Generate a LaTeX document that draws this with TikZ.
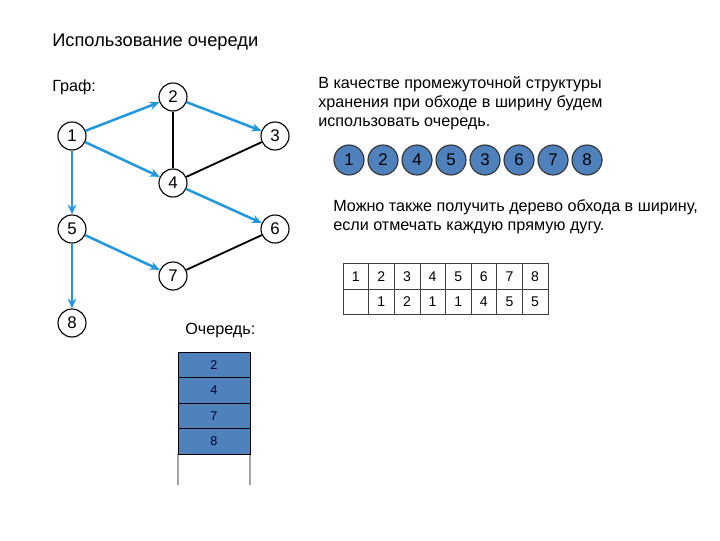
\documentclass[tikz,border=0pt]{standalone}
\usepackage{fontspec}
\setmainfont{Liberation Sans}
\usetikzlibrary{arrows.meta}
\definecolor{arcblue}{RGB}{35,152,222}
\definecolor{qblue}{RGB}{79,129,189}
\tikzset{
  vert/.style={circle, draw, thick, fill=white, minimum size=0.7cm, inner sep=0pt, font=\fontsize{12}{14}\selectfont},
  treearc/.style={arcblue, line width=1.8pt, -{Stealth[length=7pt,width=6pt]}},
  plainarc/.style={black, line width=1.3pt},
  orderv/.style={circle, draw=black!80, thick, fill=qblue, minimum size=0.75cm, inner sep=0pt, font=\fontsize{12}{14}\selectfont},
  cell/.style={draw=black!75, minimum width=0.64cm, minimum height=0.6375cm, inner sep=0pt, font=\fontsize{10}{12}\selectfont},
  qcell/.style={draw=black, fill=qblue, minimum width=1.8cm, minimum height=0.6375cm, inner sep=0pt, outer sep=0pt, text=black!80!blue, font=\fontsize{9}{11}\selectfont}
}
\begin{document}
\begin{tikzpicture}[x=0.025cm, y=-0.025cm]
\useasboundingbox (0,0) rectangle (720,540);
\def\qx{214};
\def\qy{352};
\def\qh{25.5};

% headings
\node[anchor=west, inner sep=0pt, font=\fontsize{13}{15}\selectfont] (title) at (52,42) {Использование очереди};
\node[anchor=west, inner sep=0pt, font=\fontsize{11.5}{14}\selectfont] (graphlbl) at (52,87) {Граф:};

% graph
\node[vert] (v1) at (72,136) {1};
\node[vert] (v2) at (173,97) {2};
\node[vert] (v3) at (275,136) {3};
\node[vert] (v4) at (173,183) {4};
\node[vert] (v5) at (72,229) {5};
\node[vert] (v6) at (275,229) {6};
\node[vert] (v7) at (173,276) {7};
\node[vert] (v8) at (72,323) {8};

\draw[plainarc] (v2) -- (v4);
\draw[plainarc] (v3) -- (v4);
\draw[plainarc] (v6) -- (v7);
\draw[treearc] (v1) -- (v2);
\draw[treearc] (v2) -- (v3);
\draw[treearc] (v1) -- (v4);
\draw[treearc] (v4) -- (v6);
\draw[treearc] (v1) -- (v5);
\draw[treearc] (v5) -- (v7);
\draw[treearc] (v5) -- (v8);

% queue
\node[anchor=west, inner sep=0pt, font=\fontsize{11.5}{14}\selectfont] (qlbl) at (185,331) {Очередь:};
\node[qcell] (q1) at (\qx, \qy + 0.5*\qh) {2};
\node[qcell] (q2) at (\qx, \qy + 1.5*\qh) {4};
\node[qcell] (q3) at (\qx, \qy + 2.5*\qh) {7};
\node[qcell] (q4) at (\qx, \qy + 3.5*\qh) {8};
\coordinate (qend1) at (178,485);
\coordinate (qend2) at (250,485);
\draw (q4.south west) -- (qend1);
\draw (q4.south east) -- (qend2);

% explanation
\node[anchor=north west, inner sep=0pt, align=left, font=\fontsize{11.5}{13.6}\selectfont] (note1) at (318,76)
  {В качестве промежуточной структуры\\хранения при обходе в ширину будем\\использовать очередь.};

\foreach \v [count=\k] in {1,2,4,5,3,6,7,8}
  \node[orderv] (o\k) at (349 + 34*\k - 34, 160) {\v};

\node[anchor=north west, inner sep=0pt, align=left, font=\fontsize{11.5}{13.6}\selectfont] (note2) at (333,199)
  {Можно также получить дерево обхода в ширину,\\если отмечать каждую прямую дугу.};

% tree table
\foreach \i in {1,...,8}
  \node[cell] (t1\i) at (355.8 + 25.6*\i - 25.6, 276.5) {\i};
\node[cell] (t21) at (355.8, 302) {};
\foreach \p [count=\i from 2] in {1,2,1,1,4,5,5}
  \node[cell] (t2\i) at (355.8 + 25.6*\i - 25.6, 302) {\p};

\end{tikzpicture}
\end{document}
